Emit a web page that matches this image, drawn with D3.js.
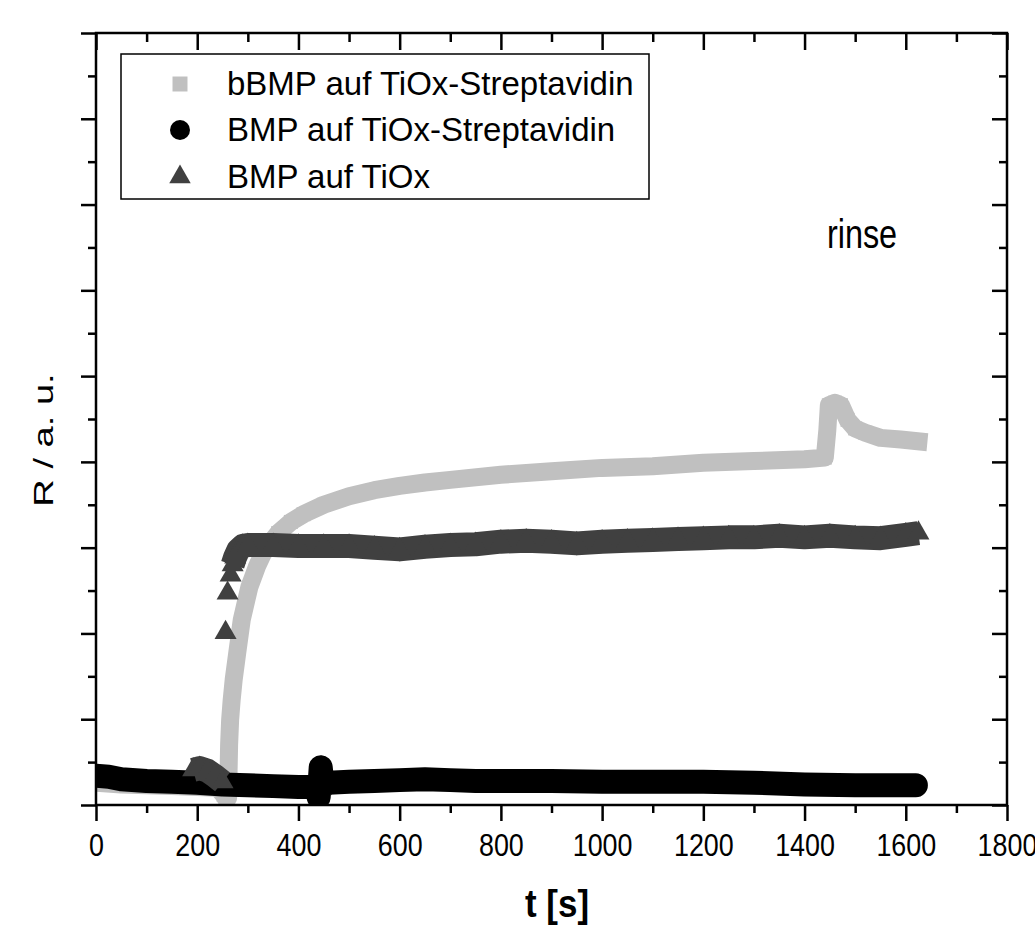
<!DOCTYPE html>
<html>
<head>
<meta charset="utf-8">
<script src="https://cdn.jsdelivr.net/npm/d3@7"></script>
<style>
  body { margin: 0; background: white; }
  text { font-family: "Liberation Sans", Arial, sans-serif; }
</style>
</head>
<body>
<div id="wrapper"></div>
<script>
// Data (t in s, R in arbitrary units)
const bbmpTime  = [0, 50, 100, 150, 200, 240, 252, 258, 261, 262, 263, 265, 268, 272, 279, 288, 303, 318, 333, 360, 385, 410, 450, 500, 550, 600, 650, 700, 800, 900, 1000, 1100, 1200, 1300, 1400, 1440, 1445, 1448, 1460, 1472, 1485, 1500, 1520, 1550, 1590, 1625]
const bbmpValue = [0.26, 0.24, 0.23, 0.22, 0.21, 0.20, 0.12, 0.06, 0.08, 0.41, 0.70, 0.99, 1.22, 1.46, 1.77, 2.16, 2.54, 2.78, 2.97, 3.17, 3.30, 3.39, 3.50, 3.60, 3.67, 3.72, 3.76, 3.79, 3.85, 3.89, 3.93, 3.95, 3.99, 4.01, 4.03, 4.05, 4.37, 4.66, 4.69, 4.66, 4.49, 4.39, 4.34, 4.28, 4.26, 4.24]

const bmpStrepTime  = [0, 25, 50, 100, 150, 200, 250, 300, 350, 400, 435, 440, 444, 448, 460, 500, 550, 600, 650, 700, 750, 800, 900, 1000, 1100, 1200, 1300, 1400, 1500, 1600, 1620]
const bmpStrepValue = [0.34, 0.33, 0.30, 0.28, 0.27, 0.26, 0.24, 0.23, 0.22, 0.21, 0.21, 0.09, 0.44, 0.22, 0.26, 0.27, 0.28, 0.29, 0.30, 0.29, 0.28, 0.28, 0.28, 0.27, 0.27, 0.27, 0.26, 0.24, 0.23, 0.23, 0.23]

const bmpTiOxTime  = [192, 205, 220, 235, 250, 256, 260, 266, 270, 275, 281, 290, 300, 350, 400, 450, 500, 550, 600, 650, 700, 750, 800, 850, 900, 950, 1000, 1050, 1100, 1150, 1200, 1250, 1300, 1350, 1400, 1450, 1500, 1550, 1600, 1625]
const bmpTiOxValue = [0.41, 0.43, 0.40, 0.34, 0.27, 2.01, 2.47, 2.68, 2.80, 2.89, 2.97, 3.02, 3.03, 3.03, 3.02, 3.02, 3.02, 3.00, 2.98, 3.01, 3.03, 3.04, 3.07, 3.08, 3.07, 3.05, 3.07, 3.08, 3.09, 3.10, 3.11, 3.12, 3.12, 3.14, 3.12, 3.14, 3.12, 3.11, 3.15, 3.17]

const legendLabels = ["bBMP auf TiOx-Streptavidin", "BMP auf TiOx-Streptavidin", "BMP auf TiOx"]
const xTicks = [0, 200, 400, 600, 800, 1000, 1200, 1400, 1600, 1800]
const xTickLabels = ["0", "200", "400", "600", "800", "1000", "1200", "1400", "1600", "1800"]
const xMinorTicks = [100, 300, 500, 700, 900, 1100, 1300, 1500, 1700]
const yTicks = [0, 1, 2, 3, 4, 5, 6, 7, 8, 9]
const yMinorTicks = [0.5, 1.5, 2.5, 3.5, 4.5, 5.5, 6.5, 7.5, 8.5]

const series = [
  { label: legendLabels[0], data: d3.zip(bbmpTime, bbmpValue), color: "#c0c0c0", band: 18, symbol: d3.symbolSquare, size: 196, cap: "square", maxJump: Infinity },
  { label: legendLabels[1], data: d3.zip(bmpStrepTime, bmpStrepValue), color: "#000000", band: 24, symbol: d3.symbolCircle, size: 340, cap: "round", maxJump: Infinity },
  { label: legendLabels[2], data: d3.zip(bmpTiOxTime, bmpTiOxValue), color: "#404040", band: 24, symbol: d3.symbolTriangle, size: 210, cap: "butt", maxJump: 0.1 }
]

const xAccessor = d => d[0]
const yAccessor = d => d[1]

// Mitat
const dimensions = {
  width: 1035,
  height: 926,
  margin: { top: 33, right: 28, bottom: 121, left: 96 }
}
dimensions.boundedWidth = dimensions.width - dimensions.margin.left - dimensions.margin.right
dimensions.boundedHeight = dimensions.height - dimensions.margin.top - dimensions.margin.bottom

const wrapper = d3.select("#wrapper")
  .append("svg")
  .attr("width", dimensions.width)
  .attr("height", dimensions.height)

const boundingBox = wrapper.append("g")
  .attr("transform", `translate(${dimensions.margin.left},${dimensions.margin.top})`)

// Scales
const xScale = d3.scaleLinear()
  .domain([0, 1800])
  .range([0, dimensions.boundedWidth])

const yScale = d3.scaleLinear()
  .domain([0, 9])
  .range([dimensions.boundedHeight, 0])

boundingBox.append("clipPath")
  .attr("id", "plot-clip")
  .append("rect")
  .attr("width", dimensions.boundedWidth)
  .attr("height", dimensions.boundedHeight)

const plot = boundingBox.append("g").attr("clip-path", "url(#plot-clip)")

// split a series where it jumps, so the sparse points stay separate markers
function splitSegments(data, maxJump) {
  const segs = []
  let cur = [data[0]]
  for (let i = 1; i < data.length; i++) {
    if (Math.abs(yAccessor(data[i]) - yAccessor(data[i - 1])) > maxJump) {
      segs.push(cur)
      cur = []
    }
    cur.push(data[i])
  }
  segs.push(cur)
  return segs
}

const lineGenerator = d3.line()
  .x(d => xScale(xAccessor(d)))
  .y(d => yScale(yAccessor(d)))

series.forEach(s => {
  const g = plot.append("g")
  splitSegments(s.data, s.maxJump).filter(seg => seg.length > 1).forEach(seg => {
    g.append("path")
      .attr("d", lineGenerator(seg))
      .attr("fill", "none")
      .attr("stroke", s.color)
      .attr("stroke-width", s.band)
      .attr("stroke-linejoin", "round")
      .attr("stroke-linecap", s.cap)
  })
  g.selectAll(".marker")
    .data(s.data)
    .join("path")
    .attr("class", "marker")
    .attr("transform", d => `translate(${xScale(xAccessor(d))},${yScale(yAccessor(d))})`)
    .attr("d", d3.symbol(s.symbol, s.size))
    .attr("fill", s.color)
})

// Axes
function styleAxis(g) {
  g.select(".domain").remove()
  g.selectAll(".tick line").attr("stroke", "black").attr("stroke-width", 2.5)
}

boundingBox.append("g")
  .attr("transform", `translate(0,${dimensions.boundedHeight})`)
  .call(d3.axisBottom(xScale).tickValues(xTicks).tickSize(16).tickFormat((d, i) => xTickLabels[i]))
  .call(styleAxis)
  .call(g => g.selectAll(".tick text")
    .attr("y", 51)
    .attr("dy", 0)
    .attr("fill", "black")
    .attr("font-size", 32)
    .attr("font-family", "Liberation Sans, Arial, sans-serif")
    .attr("transform", "scale(0.84,1)"))

boundingBox.append("g")
  .attr("transform", `translate(0,${dimensions.boundedHeight})`)
  .call(d3.axisBottom(xScale).tickValues(xMinorTicks).tickSize(8).tickFormat(""))
  .call(styleAxis)

// top axis, ticks inward
boundingBox.append("g")
  .call(d3.axisBottom(xScale).tickValues(xTicks).tickSize(17).tickFormat(""))
  .call(styleAxis)
boundingBox.append("g")
  .call(d3.axisBottom(xScale).tickValues(xMinorTicks).tickSize(9).tickFormat(""))
  .call(styleAxis)

// left axis, ticks outward
boundingBox.append("g")
  .call(d3.axisLeft(yScale).tickValues(yTicks).tickSize(15).tickFormat(""))
  .call(styleAxis)
boundingBox.append("g")
  .call(d3.axisLeft(yScale).tickValues(yMinorTicks).tickSize(8).tickFormat(""))
  .call(styleAxis)

// right axis, ticks inward
boundingBox.append("g")
  .attr("transform", `translate(${dimensions.boundedWidth},0)`)
  .call(d3.axisLeft(yScale).tickValues(yTicks).tickSize(15).tickFormat(""))
  .call(styleAxis)
boundingBox.append("g")
  .attr("transform", `translate(${dimensions.boundedWidth},0)`)
  .call(d3.axisLeft(yScale).tickValues(yMinorTicks).tickSize(8).tickFormat(""))
  .call(styleAxis)

boundingBox.append("rect")
  .attr("width", dimensions.boundedWidth)
  .attr("height", dimensions.boundedHeight)
  .attr("fill", "none")
  .attr("stroke", "black")
  .attr("stroke-width", 2.5)

// Legend
const legend = wrapper.append("g")
legend.append("rect")
  .attr("x", 121)
  .attr("y", 54)
  .attr("width", 528)
  .attr("height", 145)
  .attr("fill", "white")
  .attr("stroke", "black")
  .attr("stroke-width", 1.5)

const legendRows = [84, 130, 177]
const legendSizes = [225, 314, 200]
series.forEach((s, i) => {
  legend.append("path")
    .attr("transform", `translate(180,${legendRows[i]})`)
    .attr("d", d3.symbol(s.symbol, legendSizes[i]))
    .attr("fill", s.color)
  legend.append("text")
    .attr("transform", `translate(227,${legendRows[i] + 11}) scale(1.0,1)`)
    .attr("font-size", 33)
    .text(s.label)
})

// Labels
wrapper.append("text")
  .attr("transform", "translate(862,248) scale(0.81,1)")
  .attr("text-anchor", "middle")
  .attr("font-size", 40)
  .text("rinse")

wrapper.append("text")
  .attr("transform", "translate(53,440) rotate(-90) scale(1.36,1)")
  .attr("text-anchor", "middle")
  .attr("font-size", 28)
  .text("R / a. u.")

wrapper.append("text")
  .attr("transform", "translate(557,917) scale(0.92,1)")
  .attr("text-anchor", "middle")
  .attr("font-size", 38)
  .attr("font-weight", "bold")
  .text("t [s]")
</script>
</body>
</html>
